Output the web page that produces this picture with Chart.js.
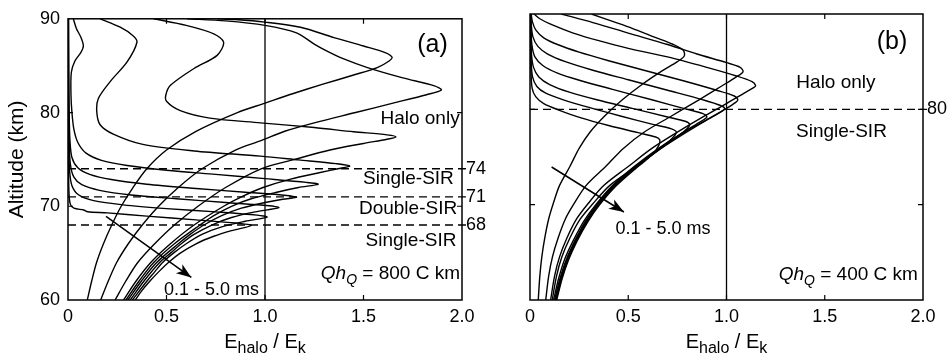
<!DOCTYPE html>
<html>
<head>
<meta charset="utf-8">
<script src="https://cdn.jsdelivr.net/npm/chart.js@4.4.1/dist/chart.umd.min.js"></script>
<style>
  html, body { margin: 0; padding: 0; background: #fff; }
  #wrap { position: relative; width: 949px; height: 358px; background: #fff; }
  #wrap canvas { position: absolute; left: 0; top: 0; }
</style>
</head>
<body>
<div id="wrap">
  <canvas id="panelA" width="949" height="358"></canvas>
  <canvas id="panelB" width="949" height="358"></canvas>
</div>
<script>
// Axis ticks, shared by both panels
const xTicks = [0, 0.5, 1.0, 1.5, 2.0]
const xTickLabels = ['0', '0.5', '1.0', '1.5', '2.0']
const yTicks = [60, 70, 80, 90]
const yTickLabels = ['60', '70', '80', '90']

// Breakdown threshold (vertical line) and regime boundaries (dashed), km
const breakdownRatio = 1.0
const sirLinesA = [74, 71, 68]
const sirLinesB = [80]

// Panel (a), QhQ = 800 C km.  Each curve is [E_halo/E_k, altitude km], 0.1 ms ... 5.0 ms
const curveA1 = [[0.098,60],[0.12,62],[0.145,64],[0.18,66],[0.222,68],[0.27,70],[0.33,72],[0.40,74],[0.50,76],[0.65,78],[0.86,80],[1.0,81],[1.14,82],[1.29,83],[1.45,84],[1.57,84.8],[1.63,85.5],[1.645,85.9],[1.61,86.4],[1.50,87.1],[1.35,88.0],[1.18,89.1],[1.0,89.65],[0.85,89.92],[0.757,90]]
const curveA2 = [[0.166,60],[0.204,62],[0.247,64],[0.306,66],[0.377,68],[0.46,70],[0.56,72],[0.68,74],[0.85,76],[0.98,77],[1.10,78],[1.25,78.9],[1.46,80],[1.65,81],[1.82,81.9],[1.895,82.4],[1.86,82.85],[1.70,83.7],[1.52,84.8],[1.39,85.8],[1.31,86.6],[1.25,87.3],[1.16,88.5],[1.0,89.3],[0.80,89.78],[0.604,90]]
const curveA3 = [[0.239,60],[0.293,62],[0.354,64],[0.44,66],[0.54,68],[0.66,70],[0.80,72],[0.98,74],[1.15,75],[1.33,76],[1.50,76.7],[1.62,77.15],[1.665,77.4],[1.62,77.62],[1.45,77.95],[1.25,78.4],[0.977,78.9],[0.72,79.4],[0.57,80.2],[0.50,81.2],[0.497,81.9],[0.52,82.9],[0.64,84.7],[0.757,86.1],[0.79,87.5],[0.74,88.4],[0.60,89.3],[0.434,90]]
const curveA4 = [[0.282,60],[0.345,62],[0.42,64],[0.52,66],[0.64,68],[0.79,70],[0.88,71],[0.99,72],[1.13,72.9],[1.28,73.6],[1.37,74.0],[1.43,74.3],[1.36,74.55],[1.17,74.95],[0.977,75.35],[0.64,75.9],[0.38,76.6],[0.23,77.7],[0.163,78.7],[0.146,80.1],[0.154,81.5],[0.214,83.3],[0.30,85.4],[0.35,87.5],[0.33,88.2],[0.265,89.1],[0.163,90]]
const curveA5 = [[0.294,60],[0.36,62],[0.435,64],[0.54,66],[0.67,68],[0.74,69],[0.83,70],[0.93,70.8],[1.06,71.5],[1.17,72.0],[1.27,72.35],[1.21,72.55],[1.0,72.95],[0.75,73.4],[0.50,73.85],[0.30,74.35],[0.17,74.9],[0.09,75.7],[0.05,76.8],[0.03,78.2],[0.02,80],[0.015,82],[0.017,84.3],[0.035,85.5],[0.065,86.4],[0.078,87.1],[0.066,88.0],[0.042,89],[0.027,90]]
const curveA6 = [[0.304,60],[0.372,62],[0.45,64],[0.56,66],[0.62,67],[0.69,68],[0.78,69],[0.88,69.8],[1.0,70.4],[1.09,70.75],[1.16,70.95],[1.11,71.15],[0.9,71.5],[0.65,71.9],[0.40,72.35],[0.22,72.85],[0.11,73.4],[0.05,74.1],[0.02,75.2],[0.01,77],[0.006,80],[0.004,85],[0.003,90]]
const curveA7 = [[0.316,60],[0.385,62],[0.465,64],[0.52,65],[0.575,66],[0.64,67],[0.73,68],[0.83,68.8],[0.95,69.4],[1.07,69.85],[1.02,70.05],[0.8,70.4],[0.55,70.8],[0.32,71.2],[0.16,71.7],[0.07,72.3],[0.03,73.1],[0.012,74.5],[0.006,77],[0.003,82],[0.002,90]]
const curveA8 = [[0.327,60],[0.40,62],[0.44,63],[0.48,64],[0.535,65],[0.60,66],[0.68,67],[0.78,67.8],[0.90,68.4],[1.01,68.85],[0.96,69.05],[0.75,69.4],[0.5,69.75],[0.28,70.15],[0.13,70.6],[0.055,71.2],[0.02,72.2],[0.008,73.8],[0.004,77],[0.002,82],[0.001,90]]
const curveA9 = [[0.341,60],[0.375,61],[0.415,62],[0.46,63],[0.51,64],[0.57,65],[0.65,66],[0.74,66.8],[0.83,67.4],[0.93,67.95],[0.88,68.15],[0.65,68.55],[0.40,68.95],[0.20,69.3],[0.10,69.42],[0.08,69.6],[0.03,69.8],[0.012,70.2],[0.005,71.5],[0.002,75],[0,80],[0,90]]

// Panel (b), QhQ = 400 C km
const curveB1 = [[0.042,60],[0.05,62.5],[0.06,64.5],[0.075,66.5],[0.095,68.5],[0.118,70.1],[0.15,72],[0.203,74],[0.25,75.9],[0.305,77.6],[0.38,79.3],[0.47,81.0],[0.57,82.6],[0.67,84.0],[0.75,85.0],[0.785,85.6],[0.78,86.2],[0.73,86.8],[0.63,87.6],[0.52,88.5],[0.424,89.2],[0.313,90]]
const curveB2 = [[0.08,60],[0.095,62.5],[0.114,64.5],[0.143,66.5],[0.18,68.5],[0.224,70.1],[0.285,72],[0.385,74],[0.475,75.9],[0.58,77.6],[0.72,79.3],[0.86,81.0],[0.98,82.5],[1.05,83.4],[1.084,83.95],[1.07,84.4],[1.0,84.9],[0.85,85.8],[0.7,86.8],[0.5,88.0],[0.32,89.1],[0.16,90]]
const curveB3 = [[0.105,60],[0.125,62.5],[0.15,64.5],[0.188,66.5],[0.237,68.5],[0.295,70.1],[0.375,72],[0.50,74],[0.62,75.9],[0.75,77.6],[0.88,79.2],[1.0,80.6],[1.09,81.7],[1.14,82.3],[1.148,82.5],[1.13,82.9],[1.05,83.5],[0.9,84.4],[0.7,85.5],[0.5,86.4],[0.35,87.2],[0.22,88.0],[0.12,88.8],[0.05,89.5],[0.02,90]]
const curveB4 = [[0.113,60],[0.135,62.5],[0.162,64.5],[0.203,66.5],[0.256,68.5],[0.32,70.1],[0.405,72],[0.54,74],[0.66,75.8],[0.78,77.4],[0.9,78.9],[1.0,80.1],[1.045,80.7],[1.058,81.0],[1.04,81.4],[0.95,82.0],[0.78,83.0],[0.58,84.1],[0.40,85.1],[0.25,86.0],[0.14,86.8],[0.07,87.5],[0.03,88.3],[0.012,89.2],[0.006,90]]
const curveB5 = [[0.12,60],[0.145,62.2],[0.177,64.3],[0.222,66.3],[0.275,68.3],[0.335,70],[0.42,72],[0.53,74],[0.66,76],[0.80,77.8],[0.90,78.9],[0.96,79.6],[0.99,80.05],[0.97,80.4],[0.88,81.0],[0.70,82.0],[0.50,83.1],[0.32,84.1],[0.18,85.0],[0.09,85.8],[0.04,86.6],[0.015,87.6],[0.006,89],[0.004,90]]
const curveB6 = [[0.125,60],[0.152,62.2],[0.184,64.2],[0.228,66.2],[0.28,68.2],[0.34,70],[0.425,72],[0.535,74],[0.665,76],[0.78,77.6],[0.86,78.6],[0.9,79.2],[0.88,79.55],[0.80,80.0],[0.62,81.0],[0.42,82.1],[0.26,83.0],[0.14,83.8],[0.065,84.6],[0.025,85.5],[0.01,86.7],[0.005,88.5],[0.003,90]]
const curveB7 = [[0.129,60],[0.156,62.2],[0.188,64.2],[0.232,66.2],[0.285,68.2],[0.345,70],[0.43,72],[0.54,74],[0.665,75.9],[0.76,77.3],[0.80,78.0],[0.813,78.4],[0.79,78.75],[0.70,79.2],[0.52,80.1],[0.34,81.0],[0.20,81.8],[0.10,82.6],[0.045,83.4],[0.018,84.4],[0.008,85.7],[0.004,88],[0.002,90]]
const curveB8 = [[0.133,60],[0.16,62.2],[0.192,64.2],[0.236,66.2],[0.29,68.2],[0.35,70],[0.435,72],[0.545,74],[0.65,75.7],[0.72,76.9],[0.745,77.6],[0.72,77.95],[0.63,78.4],[0.46,79.3],[0.30,80.2],[0.17,81.0],[0.08,81.7],[0.035,82.4],[0.013,83.4],[0.006,85],[0.003,88],[0.002,90]]
const curveB9 = [[0.136,60],[0.163,62.2],[0.196,64.2],[0.24,66.2],[0.294,68.2],[0.355,70],[0.44,72],[0.55,74],[0.62,75.2],[0.655,76.2],[0.66,76.8],[0.64,77.1],[0.55,77.55],[0.40,78.3],[0.26,79.1],[0.15,79.9],[0.07,80.6],[0.03,81.3],[0.011,82.2],[0.005,84],[0.002,87],[0.001,90]]

// "0.1 - 5.0 ms" arrows, tail then tip
const arrowA = [[0.193,68.92],[0.626,62.41]]
const arrowB = [[0.110,73.95],[0.478,69.23]]

const FONT = "'Liberation Sans', Arial, Helvetica, sans-serif"

function line_dataset(pts, extra) {
    return Object.assign({
        data: pts.map(([x, y]) => ({ x, y })),
        showLine: true,
        borderColor: '#000',
        borderWidth: 1.4,
        pointRadius: 0,
        tension: 0.3,
        fill: false,
    }, extra || {})
}

// Draw text made of several runs (for subscripts and italics).  y is the baseline.
function draw_runs(ctx, runs, x, y, align) {
    let total = 0
    for (let r of runs) {
        ctx.font = (r.italic ? 'italic ' : '') + r.size + 'px ' + FONT
        r.w = ctx.measureText(r.text).width
        total += r.w
    }
    let cx = align == 'right' ? x - total : align == 'center' ? x - total / 2 : x
    ctx.textAlign = 'left'
    ctx.textBaseline = 'alphabetic'
    for (let r of runs) {
        ctx.font = (r.italic ? 'italic ' : '') + r.size + 'px ' + FONT
        ctx.fillText(r.text, cx, y + (r.dy || 0))
        cx += r.w
    }
}

function qh_runs(value) {
    return [{ text: 'Q', size: 19, italic: true },
            { text: 'h', size: 19, italic: true },
            { text: 'Q', size: 14, italic: true, dy: 5 },
            { text: ' = ' + value + ' C km', size: 19 }]
}

const decor = {
    id: 'decor',
    afterDatasetsDraw(chart, args, opts) {
        const { ctx, chartArea: a } = chart
        const px = v => chart.scales.x.getPixelForValue(v)
        const py = v => chart.scales.y.getPixelForValue(v)
        ctx.save()
        ctx.strokeStyle = '#000'
        ctx.fillStyle = '#000'

        // frame and inward tick marks on all four sides
        ctx.lineWidth = 1.5
        ctx.strokeRect(a.left, a.top, a.right - a.left, a.bottom - a.top)
        ctx.lineWidth = 1.2
        ctx.beginPath()
        for (let v of xTicks.slice(1, -1)) {
            ctx.moveTo(px(v), a.bottom); ctx.lineTo(px(v), a.bottom - 5)
            ctx.moveTo(px(v), a.top); ctx.lineTo(px(v), a.top + 5)
        }
        for (let v of yTicks.slice(1, -1)) {
            ctx.moveTo(a.left, py(v)); ctx.lineTo(a.left + 5, py(v))
            ctx.moveTo(a.right, py(v)); ctx.lineTo(a.right - 5, py(v))
        }
        ctx.stroke()

        // arrow head
        let [[x0, y0], [x1, y1]] = opts.arrow
        let tx = px(x1), ty = py(y1)
        let ang = Math.atan2(ty - py(y0), tx - px(x0))
        ctx.beginPath()
        ctx.moveTo(tx, ty)
        ctx.lineTo(tx - 15 * Math.cos(ang) + 5.5 * Math.sin(ang), ty - 15 * Math.sin(ang) - 5.5 * Math.cos(ang))
        ctx.lineTo(tx - 11 * Math.cos(ang), ty - 11 * Math.sin(ang))
        ctx.lineTo(tx - 15 * Math.cos(ang) - 5.5 * Math.sin(ang), ty - 15 * Math.sin(ang) + 5.5 * Math.cos(ang))
        ctx.closePath()
        ctx.fill()

        // labels on the dashed regime boundaries
        ctx.font = '18px ' + FONT
        ctx.textAlign = 'left'
        ctx.textBaseline = 'middle'
        for (let v of opts.sirLines) {
            ctx.fillText(String(v), a.right + 4, py(v))
        }

        // text notes inside the panel
        for (let n of opts.notes) {
            ctx.font = n.size + 'px ' + FONT
            ctx.textAlign = 'center'
            ctx.textBaseline = 'middle'
            ctx.fillText(n.text, px(n.x), py(n.y))
        }
        draw_runs(ctx, qh_runs(opts.qh.value), px(opts.qh.x), py(opts.qh.y), 'right')

        // axis titles
        let mid = (a.left + a.right) / 2
        draw_runs(ctx, [{ text: 'E', size: 20 }, { text: 'halo', size: 16, dy: 5 },
                        { text: ' / E', size: 20 }, { text: 'k', size: 16, dy: 5 }],
                  mid, 348, 'center')
        if (opts.yTitle) {
            ctx.translate(17, (a.top + a.bottom) / 2)
            ctx.rotate(-Math.PI / 2)
            ctx.font = '21px ' + FONT
            ctx.textAlign = 'center'
            ctx.textBaseline = 'middle'
            ctx.fillText(opts.yTitle, 0, 0)
        }
        ctx.restore()
    }
}

function make_panel(canvas_id, curves, sir_lines, arrow, layout, decor_opts) {
    let datasets = curves.map(c => line_dataset(c))
    datasets.push(line_dataset([[breakdownRatio, 60], [breakdownRatio, 90]], { tension: 0, borderWidth: 1.3 }))
    for (let v of sir_lines) {
        datasets.push(line_dataset([[0, v], [2.02, v]],
                                   { tension: 0, borderWidth: 1.3, borderDash: [8, 5], clip: false }))
    }
    datasets.push(line_dataset(arrow, { tension: 0, borderWidth: 1.5 }))
    decor_opts.arrow = arrow
    decor_opts.sirLines = sir_lines

    return new Chart(document.getElementById(canvas_id), {
        type: 'scatter',
        data: { datasets },
        options: {
            responsive: false,
            animation: false,
            devicePixelRatio: 1,
            events: [],
            layout: { padding: { left: layout.padLeft, right: layout.padRight, top: 14, bottom: 0 } },
            plugins: { legend: { display: false }, tooltip: { enabled: false }, decor: decor_opts },
            scales: {
                x: {
                    type: 'linear', min: 0, max: 2,
                    grid: { display: false, drawTicks: false },
                    border: { display: false },
                    afterBuildTicks: s => { s.ticks = xTicks.map(v => ({ value: v })) },
                    afterFit: s => { s.height = 58 },
                    ticks: {
                        padding: 6, color: '#000', autoSkip: false, maxRotation: 0,
                        font: { family: FONT, size: 18 },
                        callback: (v, i) => xTickLabels[i],
                    },
                },
                y: {
                    type: 'linear', min: 60, max: 90,
                    grid: { display: false, drawTicks: false },
                    border: { display: false },
                    afterBuildTicks: s => { s.ticks = yTicks.map(v => ({ value: v })) },
                    afterFit: s => { s.width = layout.yWidth },
                    ticks: {
                        display: layout.yLabels, padding: 8, color: '#000',
                        font: { family: FONT, size: 18 },
                        callback: (v, i) => yTickLabels[i],
                    },
                },
            },
        },
        plugins: [decor],
    })
}

make_panel('panelA',
           [curveA1, curveA2, curveA3, curveA4, curveA5, curveA6, curveA7, curveA8, curveA9],
           sirLinesA, arrowA,
           { padLeft: 0, padRight: 487, yWidth: 68, yLabels: true },
           { yTitle: 'Altitude (km)',
             qh: { value: '800', x: 1.99, y: 62.2 },
             notes: [{ text: '(a)', x: 1.85, y: 87.17, size: 25 },
                     { text: 'Halo only', x: 1.787, y: 79.3, size: 19 },
                     { text: 'Single-SIR', x: 1.728, y: 72.95, size: 19 },
                     { text: 'Double-SIR', x: 1.726, y: 69.7, size: 19 },
                     { text: 'Single-SIR', x: 1.741, y: 66.29, size: 19 },
                     { text: '0.1 - 5.0 ms', x: 0.728, y: 61.05, size: 18 }] })

make_panel('panelB',
           [curveB1, curveB2, curveB3, curveB4, curveB5, curveB6, curveB7, curveB8, curveB9],
           sirLinesB, arrowB,
           { padLeft: 480, padRight: 26, yWidth: 50, yLabels: false },
           { qh: { value: '400', x: 1.974, y: 62.1 },
             notes: [{ text: '(b)', x: 1.842, y: 87.06, size: 25 },
                     { text: 'Halo only', x: 1.557, y: 82.76, size: 19 },
                     { text: 'Single-SIR', x: 1.585, y: 77.62, size: 19 },
                     { text: '0.1 - 5.0 ms', x: 0.677, y: 67.45, size: 18 }] })
</script>
</body>
</html>
